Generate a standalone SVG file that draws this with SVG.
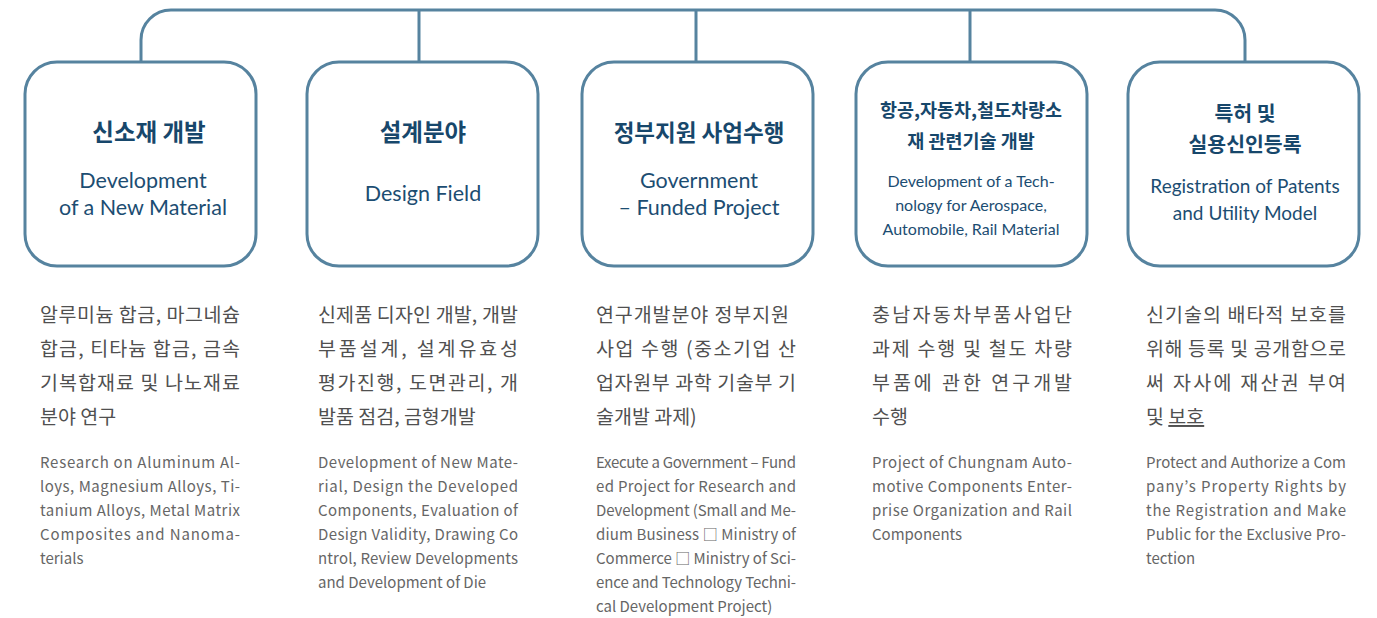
<svg xmlns="http://www.w3.org/2000/svg" width="1377" height="618" viewBox="0 0 1377 618">
<style>
.box{fill:#fff;stroke:#56839f;stroke-width:3}
.con{fill:none;stroke:#56839f;stroke-width:3}
.t{font-family:"Noto Sans CJK KR","Noto Sans",sans-serif;font-weight:700;fill:#17476b;text-anchor:middle}
.e{font-family:Lato,"Noto Sans",sans-serif;font-weight:400;fill:#1c4d72;text-anchor:middle}
.k{font-family:"Noto Sans CJK KR",sans-serif;font-weight:400;fill:#505050;font-size:19.5px}
.b{font-family:"Noto Sans CJK KR","Noto Sans",sans-serif;font-weight:400;fill:#666;font-size:15px}
</style>
<rect width="1377" height="618" fill="#fff"/>
<g id="connectors">
<path class="con" d="M141 62 V40 A30 30 0 0 1 171 10 H1215 A30 30 0 0 1 1245 40 V62"/>
<path class="con" d="M419 10 V62 M696 10 V62 M970 10 V62"/>
</g>
<g id="node1">
<rect class="box" x="25" y="62" width="231" height="204" rx="32"/>
<text class="t" x="149" y="141" font-size="23.5">신소재 개발</text>
<text class="e" font-size="21.5"><tspan x="143" y="188">Development</tspan><tspan x="143" y="215">of a New Material</tspan></text>
<text class="k" x="40" y="322" textLength="200" lengthAdjust="spacing">알루미늄  합금, 마그네슘</text>
<text class="k" x="40" y="356" textLength="200" lengthAdjust="spacing">합금, 티타늄 합금, 금속</text>
<text class="k" x="40" y="390" textLength="200" lengthAdjust="spacing">기복합재료 및 나노재료</text>
<text class="k" x="40" y="424">분야 연구</text>
<text class="b" x="40" y="468" textLength="200" lengthAdjust="spacing">Research on Aluminum Al-</text>
<text class="b" x="40" y="492" textLength="200" lengthAdjust="spacing">loys, Magnesium Alloys, Ti-</text>
<text class="b" x="40" y="516" textLength="200" lengthAdjust="spacing">tanium Alloys, Metal Matrix</text>
<text class="b" x="40" y="540" textLength="200" lengthAdjust="spacing">Composites and Nanoma-</text>
<text class="b" x="40" y="564">terials</text>
</g>
<g id="node2">
<rect class="box" x="307" y="62" width="231" height="204" rx="32"/>
<text class="t" x="423" y="141" font-size="23.5">설계분야</text>
<text class="e" x="423" y="201" font-size="21.5">Design Field</text>
<text class="k" x="318" y="322" textLength="200" lengthAdjust="spacing">신제품 디자인 개발, 개발</text>
<text class="k" x="318" y="356" textLength="200" lengthAdjust="spacing">부품설계, 설계유효성</text>
<text class="k" x="318" y="390" textLength="200" lengthAdjust="spacing">평가진행, 도면관리, 개</text>
<text class="k" x="318" y="424">발품 점검, 금형개발</text>
<text class="b" x="318" y="468" textLength="200" lengthAdjust="spacing">Development of New Mate-</text>
<text class="b" x="318" y="492" textLength="200" lengthAdjust="spacing">rial, Design the Developed</text>
<text class="b" x="318" y="516" textLength="200" lengthAdjust="spacing">Components, Evaluation of</text>
<text class="b" x="318" y="540" textLength="200" lengthAdjust="spacing">Design Validity, Drawing Co</text>
<text class="b" x="318" y="564" textLength="200" lengthAdjust="spacing">ntrol, Review Developments</text>
<text class="b" x="318" y="588">and Development of Die</text>
</g>
<g id="node3">
<rect class="box" x="582" y="62" width="231" height="204" rx="32"/>
<text class="t" x="699" y="141" font-size="22.5">정부지원 사업수행</text>
<text class="e" font-size="21.5"><tspan x="699" y="188">Government</tspan><tspan x="699" y="215">– Funded Project</tspan></text>
<text class="k" x="596" y="322" textLength="193" lengthAdjust="spacing">연구개발분야 정부지원</text>
<text class="k" x="596" y="356" textLength="200" lengthAdjust="spacing">사업 수행 (중소기업 산</text>
<text class="k" x="596" y="390" textLength="200" lengthAdjust="spacing">업자원부 과학 기술부 기</text>
<text class="k" x="596" y="424">술개발 과제)</text>
<text class="b" x="596" y="468" textLength="200" lengthAdjust="spacing">Execute a Government – Fund</text>
<text class="b" x="596" y="492" textLength="200" lengthAdjust="spacing">ed Project for Research and</text>
<text class="b" x="596" y="516" textLength="200" lengthAdjust="spacing">Development (Small and Me-</text>
<text class="b" x="596" y="540" textLength="200" lengthAdjust="spacing">dium Business □ Ministry of</text>
<text class="b" x="596" y="564" textLength="200" lengthAdjust="spacing">Commerce □ Ministry of Sci-</text>
<text class="b" x="596" y="588" textLength="200" lengthAdjust="spacing">ence and Technology Techni-</text>
<text class="b" x="596" y="612">cal Development Project)</text>
</g>
<g id="node4">
<rect class="box" x="856" y="62" width="231" height="204" rx="32"/>
<text class="t" font-size="18.5"><tspan x="971" y="117">항공,자동차,철도차량소</tspan><tspan x="971" y="148">재 관련기술 개발</tspan></text>
<text class="e" font-size="16"><tspan x="971" y="187">Development of a Tech-</tspan><tspan x="971" y="211">nology for Aerospace,</tspan><tspan x="971" y="235">Automobile, Rail Material</tspan></text>
<text class="k" x="872" y="322" textLength="200" lengthAdjust="spacing">충남자동차부품사업단</text>
<text class="k" x="872" y="356" textLength="200" lengthAdjust="spacing">과제 수행 및 철도 차량</text>
<text class="k" x="872" y="390" textLength="200" lengthAdjust="spacing">부품에  관한  연구개발</text>
<text class="k" x="872" y="424">수행</text>
<text class="b" x="872" y="468" textLength="200" lengthAdjust="spacing">Project of Chungnam Auto-</text>
<text class="b" x="872" y="492" textLength="200" lengthAdjust="spacing">motive Components Enter-</text>
<text class="b" x="872" y="516" textLength="200" lengthAdjust="spacing">prise Organization and Rail</text>
<text class="b" x="872" y="540">Components</text>
</g>
<g id="node5">
<rect class="box" x="1128" y="62" width="231" height="204" rx="32"/>
<text class="t" font-size="20.5"><tspan x="1245" y="121">특허 및</tspan><tspan x="1245" y="152">실용신인등록</tspan></text>
<text class="e" font-size="19"><tspan x="1245" y="193">Registration of Patents</tspan><tspan x="1245" y="220">and Utility Model</tspan></text>
<text class="k" x="1146" y="322" textLength="200" lengthAdjust="spacing">신기술의 배타적 보호를</text>
<text class="k" x="1146" y="356" textLength="200" lengthAdjust="spacing">위해 등록 및 공개함으로</text>
<text class="k" x="1146" y="390" textLength="200" lengthAdjust="spacing">써 자사에 재산권 부여</text>
<text class="k" x="1146" y="424">및 <tspan text-decoration="underline">보호</tspan></text>
<text class="b" x="1146" y="468" textLength="200" lengthAdjust="spacing">Protect and Authorize a Com</text>
<text class="b" x="1146" y="492" textLength="200" lengthAdjust="spacing">pany’s Property Rights by</text>
<text class="b" x="1146" y="516" textLength="200" lengthAdjust="spacing">the Registration and Make</text>
<text class="b" x="1146" y="540" textLength="200" lengthAdjust="spacing">Public for the Exclusive Pro-</text>
<text class="b" x="1146" y="564">tection</text>
</g>
</svg>
